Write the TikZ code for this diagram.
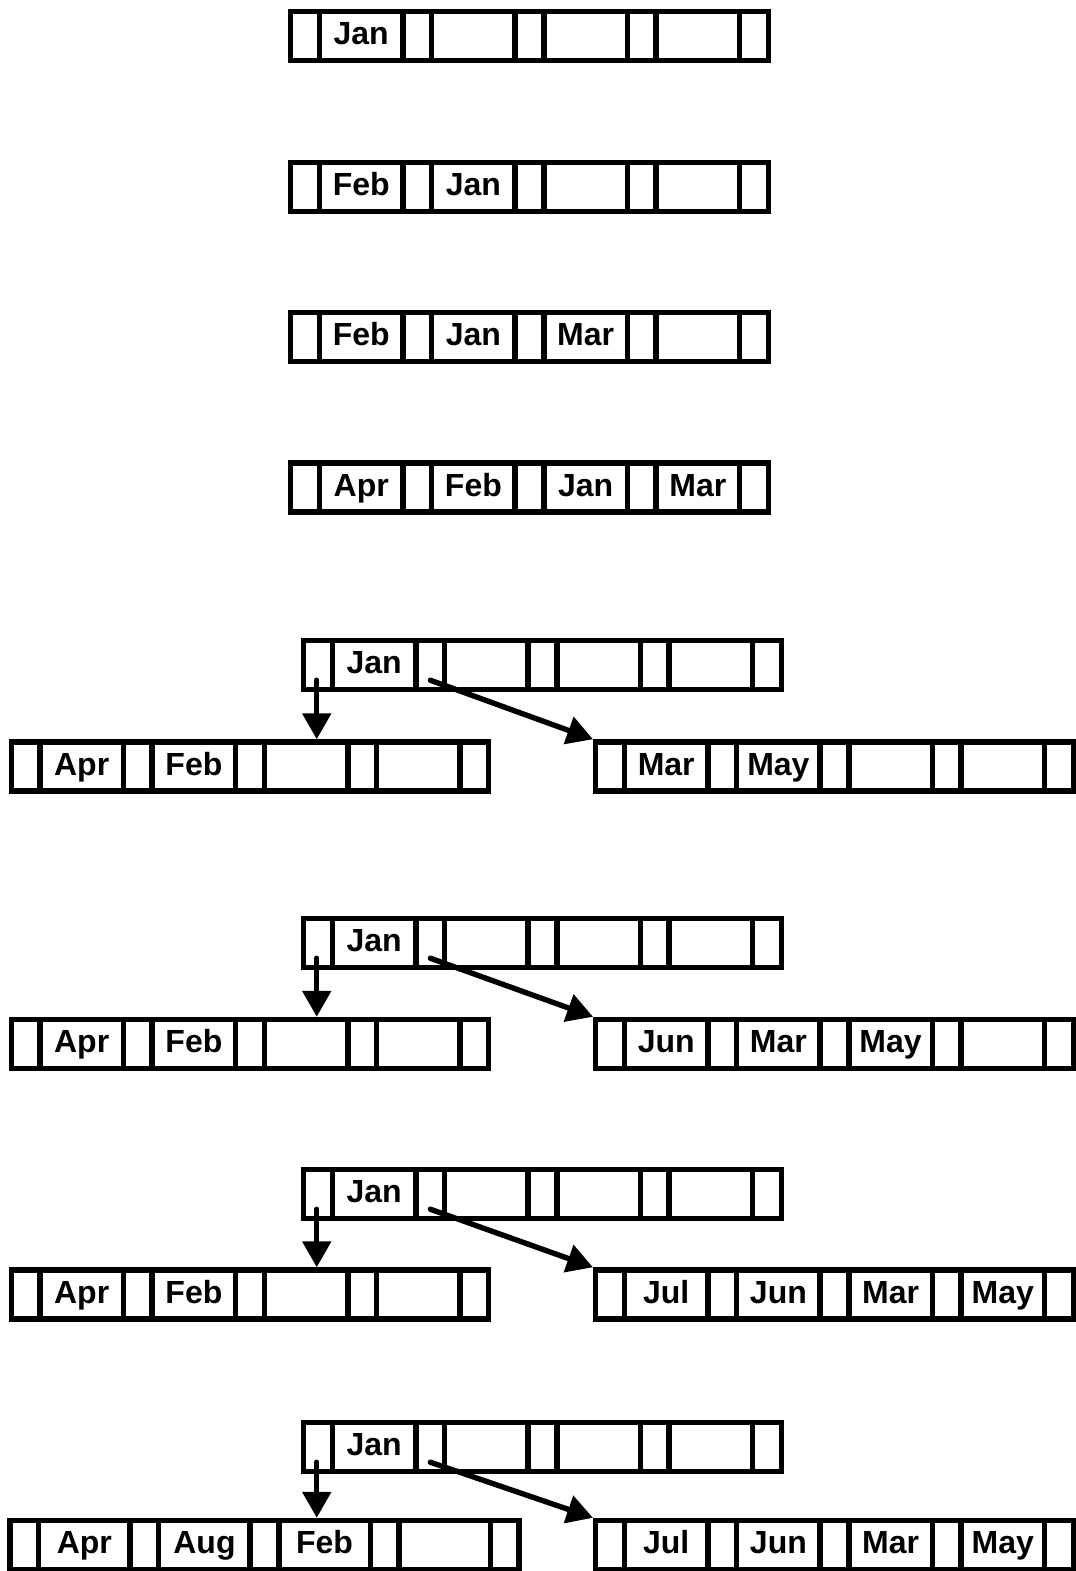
\documentclass[tikz,border=0pt]{standalone}
\usepackage{fontspec}
\setmainfont{Liberation Sans}
\usetikzlibrary{shapes.multipart,arrows.meta}

% one slot of a node: end pointer, inner pointer or key
% (the split lines add their own width between the parts)
\newcommand{\eslot}{\makebox[13pt]{\rule[-8pt]{0pt}{24.5pt}}}
\newcommand{\pslot}{\makebox[11.65pt]{\rule[-8pt]{0pt}{24.5pt}}}
\newcommand{\kslot}[2]{\makebox[#1]{\rule[-8pt]{0pt}{24.5pt}#2}}
% B-tree node: [key width]{name}{x}{y}{k1}{k2}{k3}{k4}
\newcommand{\bnode}[8][39.05pt]{%
  \node[bnode] (#2) at (#3,#4) {\eslot
    \nodepart{two}\kslot{#1}{#5}\nodepart{three}\pslot
    \nodepart{four}\kslot{#1}{#6}\nodepart{five}\pslot
    \nodepart{six}\kslot{#1}{#7}\nodepart{seven}\pslot
    \nodepart{eight}\kslot{#1}{#8}\nodepart{nine}\eslot};}

\begin{document}
\begin{tikzpicture}[x=0.5pt,y=-0.5pt,
    bnode/.style={rectangle split, rectangle split horizontal,
      rectangle split parts=9, draw, line width=2.7pt, inner sep=0pt,
      font=\bfseries\fontsize{16}{19}\selectfont},
    link/.style={line width=2.7pt, line cap=round,
      -{Triangle[length=13pt,width=14pt]}}]
  \useasboundingbox (0,0) rectangle (1076,1571);

  % insertions into the single node
  \bnode{n1}{529.5}{36}{Jan}{}{}{}
  \bnode{n2}{529.5}{187}{Feb}{Jan}{}{}
  \bnode{n3}{529.5}{337}{Feb}{Jan}{Mar}{}
  \bnode{n4}{529.5}{487.5}{Apr}{Feb}{Jan}{Mar}

  % after the split
  \bnode{root5}{542.5}{665}{Jan}{}{}{}
  \bnode{left5}{250}{766.5}{Apr}{Feb}{}{}
  \bnode{right5}{834.5}{766.5}{Mar}{May}{}{}
  \draw[link] ([yshift=6pt]root5.one south) -- (root5.one south |- left5.north);
  \draw[link] ([yshift=6pt]root5.three south) -- (right5.north west);

  \bnode{root6}{542.5}{943}{Jan}{}{}{}
  \bnode{left6}{250}{1044}{Apr}{Feb}{}{}
  \bnode{right6}{834.5}{1044}{Jun}{Mar}{May}{}
  \draw[link] ([yshift=6pt]root6.one south) -- (root6.one south |- left6.north);
  \draw[link] ([yshift=6pt]root6.three south) -- (right6.north west);

  \bnode{root7}{542.5}{1194}{Jan}{}{}{}
  \bnode{left7}{250}{1294.5}{Apr}{Feb}{}{}
  \bnode{right7}{834.5}{1294.5}{Jul}{Jun}{Mar}{May}
  \draw[link] ([yshift=6pt]root7.one south) -- (root7.one south |- left7.north);
  \draw[link] ([yshift=6pt]root7.three south) -- (right7.north west);

  \bnode{root8}{542.5}{1447}{Jan}{}{}{}
  \bnode[43pt]{left8}{264.5}{1545}{Apr}{Aug}{Feb}{}
  \bnode{right8}{834.5}{1545}{Jul}{Jun}{Mar}{May}
  \draw[link] ([yshift=6pt]root8.one south) -- (root8.one south |- left8.north);
  \draw[link] ([yshift=6pt]root8.three south) -- (right8.north west);
\end{tikzpicture}
\end{document}
